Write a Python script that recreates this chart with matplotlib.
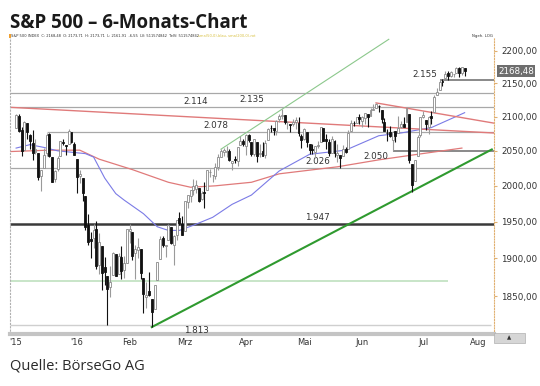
import numpy as np
import pandas as pd
import matplotlib
matplotlib.use("Agg")
import matplotlib.pyplot as plt
from matplotlib.patches import Rectangle

# S&P 500 daily candles, 1 Dec 2015 - 25 Jul 2016
opens = [2082.9, 2101.7, 2080.7, 2051.2, 2090.4, 2073.4, 2061.2, 2047.9, 2047.3, 2013.4,
         2025.6, 2046.5, 2073.8, 2040.8, 2010.3, 2023.2, 2042.2, 2063.5, 2057.8, 2060.5,
         2077.3, 2060.6,
         2038.2, 2013.8, 2011.7, 1985.3, 1946.0, 1926.1, 1927.8, 1940.3, 1891.7, 1916.7,
         1888.7, 1876.2, 1861.5, 1877.4, 1906.3, 1878.8, 1902.5, 1885.2, 1894.0,
         1936.9, 1935.3, 1907.1, 1911.7, 1913.1, 1873.3, 1848.5, 1857.1, 1847.0, 1833.4,
         1871.4, 1898.8, 1927.6, 1916.7, 1924.4, 1942.4, 1917.6, 1931.9, 1955.0, 1947.1,
         1937.1, 1976.6, 1985.6, 1994.0, 1996.1, 1996.9, 1981.4, 1991.0, 1994.7, 2019.3,
         2015.3, 2014.2, 2026.9, 2041.2, 2048.6, 2048.6, 2049.8, 2032.5, 2037.9, 2035.8,
         2058.3, 2063.8,
         2056.6, 2073.2, 2062.5, 2045.6, 2063.0, 2045.5, 2050.2, 2043.7, 2065.9, 2082.9,
         2083.1, 2078.8, 2096.1, 2101.5, 2102.1, 2091.5, 2089.4, 2089.8, 2092.3, 2090.9,
         2071.8,
         2067.2, 2077.2, 2060.3, 2052.9, 2047.8, 2057.6, 2062.6, 2083.3, 2067.2, 2062.5,
         2046.5, 2065.0, 2044.4, 2044.2, 2041.9, 2052.2, 2052.6, 2078.9, 2091.4, 2090.1,
         2100.1,
         2093.9, 2097.7, 2104.1, 2100.8, 2110.2, 2112.7, 2115.7, 2109.7, 2091.8, 2076.7,
         2077.6, 2066.4, 2078.2, 2075.6, 2085.2, 2089.8, 2092.8, 2103.8, 2031.5, 2006.7,
         2042.7, 2073.2,
         2099.3, 2095.1, 2084.4, 2100.4, 2107.0, 2131.7, 2139.5, 2153.8, 2157.9, 2165.1,
         2162.0, 2163.8, 2166.1, 2172.9, 2166.5, 2173.71]
highs = [2103.4, 2104.3, 2085.0, 2093.8, 2090.4, 2073.9, 2080.3, 2067.7, 2047.3, 2022.9,
         2053.9, 2076.7, 2076.4, 2040.8, 2022.9, 2042.7, 2064.7, 2067.4, 2057.8, 2081.6,
         2077.3, 2062.5,
         2038.2, 2021.9, 2011.7, 1985.3, 1960.4, 1935.7, 1947.4, 1950.3, 1934.5, 1916.7,
         1901.4, 1876.2, 1889.9, 1908.9, 1906.3, 1906.7, 1917.0, 1903.0, 1940.2,
         1947.2, 1935.3, 1918.0, 1927.4, 1913.1, 1873.3, 1868.3, 1881.6, 1847.0, 1864.8,
         1895.8, 1930.7, 1930.0, 1918.8, 1946.7, 1942.4, 1932.1, 1951.8, 1963.0, 1958.3,
         1978.4, 1986.5, 1993.7, 2009.1, 2008.3, 1996.9, 1992.7, 2005.1, 2022.4, 2024.6,
         2015.9, 2032.0, 2046.0, 2052.4, 2053.9, 2056.6, 2053.1, 2036.0, 2042.7, 2055.9,
         2072.2, 2067.9,
         2075.1, 2074.0, 2062.5, 2067.3, 2063.0, 2060.6, 2062.9, 2065.1, 2083.2, 2087.8,
         2083.2, 2094.7, 2104.4, 2111.1, 2103.0, 2094.3, 2089.4, 2096.9, 2099.9, 2099.3,
         2073.9,
         2083.4, 2077.2, 2060.3, 2060.2, 2057.7, 2064.2, 2084.9, 2083.3, 2073.9, 2066.8,
         2071.9, 2065.7, 2060.6, 2044.2, 2058.4, 2055.6, 2079.7, 2094.7, 2094.1, 2099.1,
         2103.5,
         2101.0, 2105.3, 2104.1, 2113.4, 2119.2, 2120.6, 2117.6, 2109.7, 2098.1, 2081.3,
         2085.7, 2079.6, 2078.2, 2100.7, 2093.7, 2099.7, 2113.3, 2103.8, 2031.5, 2036.1,
         2073.1, 2098.9,
         2108.7, 2095.1, 2100.7, 2109.1, 2131.7, 2143.2, 2155.4, 2156.5, 2169.0, 2169.1,
         2168.4, 2164.6, 2175.6, 2174.6, 2175.1, 2173.71]
lows = [2082.9, 2077.1, 2042.4, 2051.2, 2066.8, 2052.3, 2036.5, 2045.7, 2008.8, 1993.3,
        2025.6, 2042.4, 2041.7, 2005.3, 2005.9, 2020.5, 2042.2, 2058.7, 2044.2, 2060.5,
        2062.0, 2043.6,
        1989.7, 2004.2, 1979.1, 1938.8, 1918.5, 1901.1, 1914.4, 1886.4, 1878.9, 1857.8,
        1864.6, 1812.3, 1849.0, 1877.4, 1876.0, 1878.8, 1872.7, 1873.7, 1894.0,
        1920.3, 1897.3, 1872.7, 1900.5, 1872.7, 1828.5, 1834.9, 1850.3, 1810.1, 1833.4,
        1871.4, 1898.8, 1915.1, 1902.2, 1924.4, 1919.4, 1891.0, 1925.4, 1945.8, 1931.8,
        1937.1, 1968.8, 1977.4, 1986.8, 1989.3, 1977.4, 1979.8, 1969.3, 1994.7, 2012.1,
        2005.2, 2010.0, 2022.2, 2041.2, 2043.1, 2040.6, 2034.9, 2022.5, 2032.0, 2028.3,
        2058.3, 2057.5,
        2044.0, 2062.6, 2042.6, 2043.1, 2033.8, 2041.7, 2041.9, 2039.7, 2065.9, 2078.1,
        2073.6, 2073.7, 2091.7, 2096.3, 2088.5, 2081.2, 2077.5, 2085.8, 2082.3, 2071.6,
        2054.4,
        2066.1, 2054.9, 2045.6, 2045.8, 2039.5, 2054.3, 2062.6, 2064.5, 2053.1, 2043.1,
        2046.5, 2040.8, 2034.5, 2025.9, 2041.9, 2047.3, 2052.6, 2078.9, 2085.6, 2090.1,
        2088.7,
        2085.1, 2088.6, 2085.4, 2100.8, 2110.2, 2112.7, 2107.0, 2090.0, 2078.5, 2064.1,
        2069.8, 2050.4, 2062.8, 2075.6, 2083.0, 2084.4, 2092.8, 2032.6, 1991.7, 2006.7,
        2042.7, 2070.0,
        2097.9, 2080.9, 2074.0, 2089.4, 2107.0, 2131.7, 2139.5, 2146.2, 2157.9, 2155.8,
        2159.1, 2159.0, 2165.1, 2159.8, 2163.2, 2161.91]
closes = [2102.6, 2079.5, 2049.6, 2091.7, 2077.1, 2063.6, 2047.6, 2052.2, 2012.4, 2021.9,
          2043.4, 2073.1, 2041.9, 2005.6, 2021.2, 2039.0, 2064.3, 2061.0, 2056.5, 2078.4,
          2063.4, 2043.9,
          2012.7, 2016.7, 1990.3, 1943.1, 1922.0, 1923.7, 1938.7, 1890.3, 1921.8, 1880.3,
          1881.3, 1859.3, 1869.0, 1906.9, 1877.1, 1903.6, 1883.0, 1893.4, 1940.2,
          1939.4, 1903.0, 1912.5, 1915.5, 1880.1, 1853.4, 1852.2, 1851.9, 1829.1, 1864.8,
          1895.6, 1926.8, 1917.8, 1917.8, 1945.5, 1921.3, 1929.8, 1951.7, 1948.1, 1932.2,
          1978.4, 1986.5, 1993.4, 2000.0, 2001.8, 1979.3, 1989.3, 1989.6, 2022.2, 2019.6,
          2015.9, 2027.2, 2040.6, 2049.6, 2051.6, 2049.8, 2036.7, 2035.9, 2037.1, 2055.0,
          2064.0, 2059.7,
          2072.8, 2066.1, 2045.2, 2066.7, 2041.9, 2047.6, 2042.0, 2061.7, 2082.4, 2082.8,
          2080.7, 2094.3, 2100.8, 2102.4, 2091.5, 2091.6, 2087.8, 2091.7, 2095.2, 2075.8,
          2065.3,
          2081.4, 2063.4, 2051.1, 2050.6, 2057.1, 2058.7, 2084.4, 2064.5, 2064.1, 2046.6,
          2066.7, 2047.2, 2047.6, 2040.0, 2052.3, 2048.0, 2076.1, 2090.5, 2090.1, 2099.1,
          2097.0,
          2099.3, 2105.3, 2099.1, 2109.4, 2112.1, 2119.1, 2115.5, 2096.1, 2079.1, 2075.3,
          2071.5, 2078.0, 2071.2, 2083.3, 2088.9, 2085.5, 2113.3, 2037.4, 2000.5, 2036.1,
          2070.8, 2098.9,
          2103.0, 2088.6, 2099.7, 2097.9, 2129.9, 2137.2, 2152.1, 2152.4, 2163.8, 2161.7,
          2166.9, 2163.8, 2173.0, 2165.2, 2175.0, 2168.48]

holidays = ["2015-12-25", "2016-01-01", "2016-01-18", "2016-02-15",
            "2016-03-25", "2016-05-30", "2016-07-04"]

# moving averages (trading-day index, value)
sma50_idx = [0, 5, 10, 15, 20, 25, 28, 32, 36, 39, 46, 51, 55, 59, 64, 71, 78,
             85, 95, 106, 119, 131, 139, 150, 162]
sma50_val = [2054, 2059, 2055, 2050, 2048, 2046, 2041, 2011, 1989, 1980, 1961, 1943,
             1938, 1938, 1945, 1956, 1974, 1987, 2021, 2045, 2051, 2072, 2076, 2084, 2106]
sma200_idx = [-2, 12, 23, 30, 42, 55, 63, 72, 85, 95, 116, 131, 145, 161]
sma200_val = [2049, 2051, 2051, 2038, 2023, 2005, 1998, 2000, 2005, 2017, 2027, 2037,
              2045, 2054]

# horizontal marks
level_vals = [2135, 2114, 2078, 2026, 1947, 1813]
level_start = [-2.2, -2.2, 11, -2.2, -2.2, -2.2]
level_labels = ["2.135", "2.114", "2.078", "2.026", "1.947", "1.813"]
label_idx = [85, 65, 72, 109, 109, 65]
label_above = [False, True, True, True, True, False]

short_vals = [2050, 2155]
short_start = [136, 153]
short_labels = ["2.050", "2.155"]
short_label_idx = [130, 147.5]
short_label_above = [False, True]

green_level = 1870

# trend lines (index, price) pairs
red_long = ([-2.2, 172.6], [2114, 2076])
red_june = ([130, 172.6], [2120.6, 2090.5])
green_up = ([49, 171.8], [1810.1, 2052])
green_thin = ([74, 134.6], [2052.4, 2218])

yticks = [1850, 1900, 1950, 2000, 2050, 2100, 2150, 2200]
months = ["'15", "'16", "Feb", "Mrz", "Apr", "Mai", "Jun", "Jul", "Aug"]

# ---- trading day axis
days = pd.bdate_range("2015-12-01", "2016-08-10")
days = days[~days.isin(pd.to_datetime(holidays))]
n = len(closes)
x = np.arange(n)
month_pos = [0]
for k in range(1, len(days)):
    if days[k].month != days[k - 1].month:
        month_pos.append(k)
month_pos = month_pos[:len(months)]

fig = plt.figure(figsize=(5.4, 3.86), dpi=100)
ax = fig.add_axes([10 / 540, 1 - 334 / 386, 484 / 540, 297 / 386])
ax.set_yscale("log")
ax.set_ylim(1801.3, 2221.6)
ax.set_xlim(-2.2, 172.6)

# levels
for v, s, lab, li, above in zip(level_vals, level_start, level_labels, label_idx, label_above):
    if v == 1947:
        ax.hlines(v, s, 172.6, color="#3a3a3a", lw=1.8, zorder=1)
    elif v == 1813:
        ax.hlines(v, s, 171.5, color="#cfcfcf", lw=1.0, zorder=1)
    else:
        ax.hlines(v, s, 172.6, color="#a8a8a8", lw=0.9, zorder=1)
    ax.annotate(lab, (li, v), xytext=(0, 1 if above else -1), textcoords="offset points",
                ha="center", va="bottom" if above else "top", fontsize=6.3, color="#333333")

for v, s, lab, li, above in zip(short_vals, short_start, short_labels, short_label_idx, short_label_above):
    ax.hlines(v, s, 172.6, color="#6a6a6a", lw=1.1, zorder=1)
    ax.annotate(lab, (li, v), xytext=(0, 1 if above else -1), textcoords="offset points",
                ha="center", va="bottom" if above else "top", fontsize=6.3, color="#333333")

ax.hlines(green_level, -2.2, 156, color="#bfe0bf", lw=1.2, zorder=1)

# moving averages
ax.plot(sma200_idx, sma200_val, color="#e07a7a", lw=0.9, zorder=2)
ax.plot(sma50_idx, sma50_val, color="#7b7be6", lw=0.8, zorder=2)

# trend lines
ax.plot(*red_long, color="#e07a7a", lw=1.0, zorder=2)
ax.plot(*red_june, color="#e07a7a", lw=1.0, zorder=2)
ax.plot(*green_up, color="#2f9a2f", lw=1.5, zorder=2)
ax.plot(*green_thin, color="#8cc88c", lw=0.8, zorder=2)

# candles
o = np.array(opens)
h = np.array(highs)
l = np.array(lows)
c = np.array(closes)
up = c >= o
ax.vlines(x[up], l[up], h[up], color="#9a9a9a", lw=0.8, zorder=3)
ax.vlines(x[~up], l[~up], h[~up], color="#111111", lw=0.8, zorder=3)
bottoms = np.minimum(o, c)
heights = np.maximum(np.abs(c - o), 0.6)
ax.bar(x[up], heights[up], bottom=bottoms[up], width=0.7, color="white",
       edgecolor="#8a8a8a", lw=0.6, zorder=4)
ax.bar(x[~up], heights[~up], bottom=bottoms[~up], width=0.7, color="#111111",
       edgecolor="#111111", lw=0.6, zorder=4)

# axes cosmetics
ax.yaxis.tick_right()
ax.set_yticks(yticks)
ax.set_yticklabels([f"{v},00" for v in yticks], fontsize=6.3, color="#333333")
ax.yaxis.set_minor_locator(matplotlib.ticker.NullLocator())
ax.tick_params(axis="y", length=2, color="#e0b070", pad=3)
ax.set_xticks(month_pos)
ax.set_xticklabels(months, fontsize=6, color="#333333")
ax.tick_params(axis="x", length=0, pad=3)
ax.spines["top"].set_visible(False)
ax.spines["right"].set_linestyle((0, (1, 1.5)))
ax.spines["right"].set_color("#e0b070")
ax.spines["left"].set_linestyle((0, (1, 2)))
ax.spines["left"].set_color("#b0b0b0")
ax.spines["bottom"].set_color("#c4c4c4")
ax.spines["bottom"].set_linewidth(3)

# last price box
ax.annotate(f"{closes[-1]:.2f}".replace(".", ","), (1.0, closes[-1]),
            xycoords=("axes fraction", "data"), xytext=(3, 0), textcoords="offset points",
            ha="left", va="center", fontsize=6.3, color="white",
            bbox=dict(boxstyle="square,pad=0.15", fc="#6e6e6e", ec="none"))

# button at bottom right
fig.patches.append(Rectangle((494 / 540, 1 - 343 / 386), 31 / 540, 10 / 386,
                             transform=fig.transFigure, fc="#d6d6d6", ec="#b0b0b0", lw=0.5))
fig.text(509 / 540, 1 - 338 / 386, "▲", fontsize=4, ha="center", va="center", color="#333333")

# header line
fig.patches.append(Rectangle((9 / 540, 1 - 38 / 386), 1.5 / 540, 4 / 386,
                             transform=fig.transFigure, fc="#f0a030", ec="none"))
fig.text(11 / 540, 1 - 36 / 386,
         "S&P 500 INDEX  C: 2168,48  O: 2173,71  H: 2173,71  L: 2161,91  -6,55  LV: 511574842  TelV: 511574842",
         fontsize=2.6, color="#333333", va="center")
fig.text(198 / 540, 1 - 36 / 386, "sma(50,0)-blau, sma(200,0)-rot",
         fontsize=2.6, color="#d8c040", va="center")
fig.text(472 / 540, 1 - 36 / 386, "Ngeh. LOG", fontsize=2.8, color="#333333", va="center")

# title & source
fig.text(10 / 540, 1 - 28 / 386, "S&P 500 – 6-Monats-Chart", fontsize=13.5,
         fontweight="bold", family="Open Sans", color="#1a1a1a", va="baseline")
fig.text(10 / 540, 1 - 370 / 386, "Quelle: BörseGo AG", fontsize=10.5,
         family=["Liberation Sans Narrow", "Open Sans"], color="#2a2a2a", va="baseline")

fig.savefig("out.png", dpi=100)
